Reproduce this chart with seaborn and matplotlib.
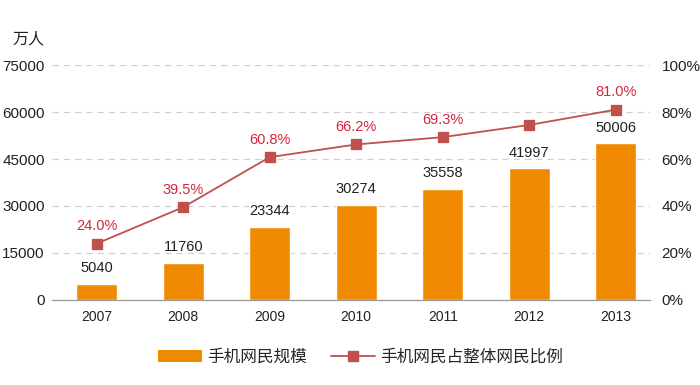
import matplotlib
matplotlib.use("Agg")
import matplotlib.pyplot as plt
import seaborn as sns
from matplotlib.lines import Line2D
from matplotlib.patches import Patch

years = ["2007", "2008", "2009", "2010", "2011", "2012", "2013"]
users = [5040, 11760, 23344, 30274, 35558, 41997, 50006]
share = [24.0, 39.5, 60.8, 66.2, 69.3, 74.5, 81.0]
share_labels = ["24.0%", "39.5%", "60.8%", "66.2%", "69.3%", "", "81.0%"]

bar_color = "#F08A00"
line_color = "#C0504D"
label_red = "#D7263D"

sns.set_style("white")
plt.rcParams["font.family"] = ["Liberation Sans", "Noto Sans CJK SC", "DejaVu Sans"]

fig = plt.figure(figsize=(7, 3.85), dpi=100)
ax = fig.add_axes([0.074, 0.221, 0.855, 0.61])

sns.barplot(x=years, y=users, ax=ax, color=bar_color, width=0.47, saturation=1)
ax.set_ylim(0, 75000)
ax.set_yticks([0, 15000, 30000, 45000, 60000, 75000])
ax.yaxis.grid(True, color="#d0d0d0", linestyle=(0, (5, 4)), linewidth=0.9)
ax.set_axisbelow(True)
for i, v in enumerate(users):
    ax.text(i, v + 2800, str(v), ha="center", va="bottom", fontsize=10.5, color="#222222")

ax2 = ax.twinx()
sns.pointplot(x=years, y=share, ax=ax2, color=line_color, markers="s",
              markersize=7, linewidth=1.3)
ax2.set_ylim(0, 100)
ax2.set_yticks([0, 20, 40, 60, 80, 100])
ax2.set_yticklabels([f"{t}%" for t in range(0, 101, 20)])
for i, (v, s) in enumerate(zip(share, share_labels)):
    if s:
        ax2.text(i, v + 4.5, s, ha="center", va="bottom", fontsize=10.5, color=label_red)

for a in (ax, ax2):
    a.set_xlim(-0.52, 6.4)
    for side in ("top", "left", "right"):
        a.spines[side].set_visible(False)
    a.spines["bottom"].set_color("#999999")
    a.tick_params(axis="y", length=0, labelsize=11, colors="#222222")
    a.set_xlabel("")
    a.set_ylabel("")
ax.tick_params(axis="x", length=4, color="#999999", labelsize=10, colors="#222222")
ax.tick_params(axis="y", pad=5)
ax2.tick_params(axis="y", pad=8)

fig.text(0.04, 0.9, "万人", fontsize=11.5, color="#222222", ha="center", va="center")

handles = [Patch(facecolor=bar_color, edgecolor="none"),
           Line2D([0], [0], color=line_color, marker="s", markersize=7, linewidth=1.3)]
fig.legend(handles, ["手机网民规模", "手机网民占整体网民比例"], loc="center",
           bbox_to_anchor=(0.515, 0.072), ncol=2, frameon=False, fontsize=12,
           handlelength=2.6, handletextpad=0.3, columnspacing=1.5)

fig.savefig("out.png", dpi=100)
